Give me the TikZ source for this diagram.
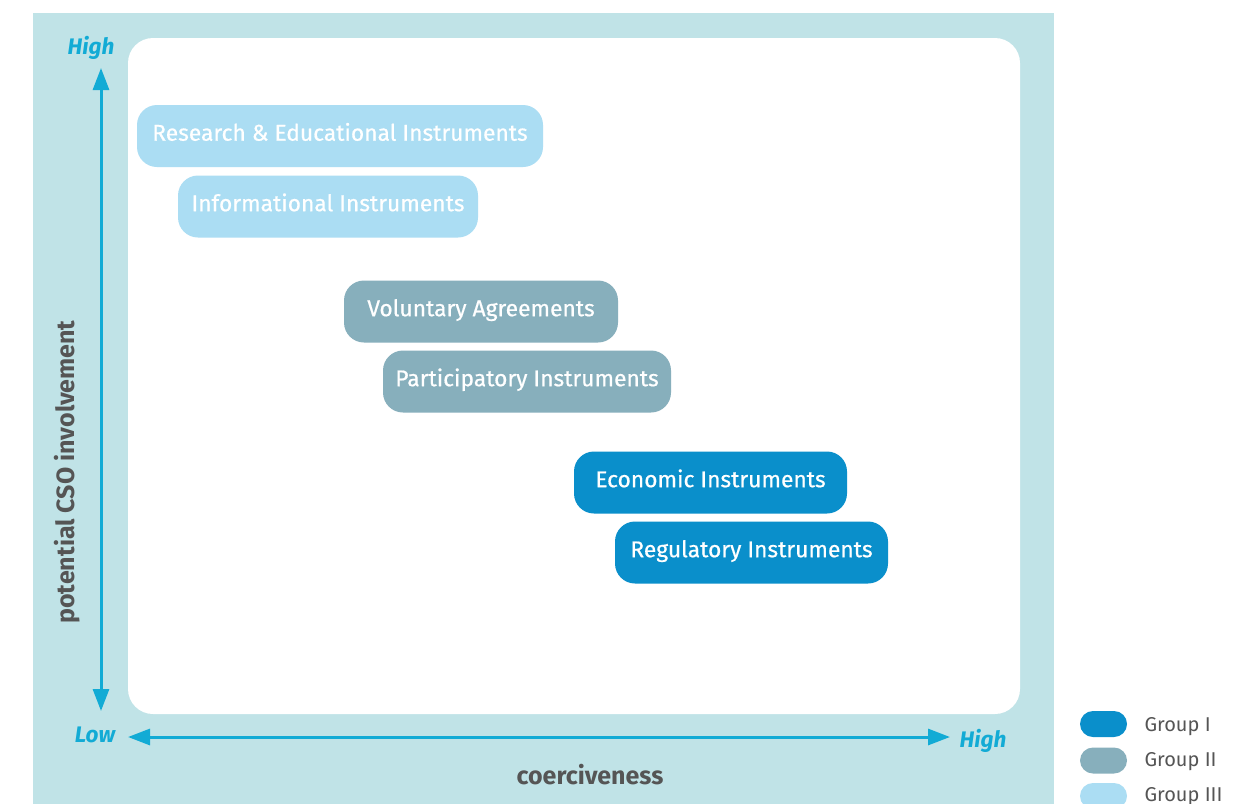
\documentclass[tikz,border=0pt]{standalone}
\usepackage{fontspec}
\setmainfont{Fira Sans}
\newfontfamily\medfont{Fira Sans}[FakeBold=0.6]
\usetikzlibrary{arrows.meta}
\definecolor{panel}{HTML}{C0E3E7}
\definecolor{axis}{HTML}{12ABD5}
\definecolor{gone}{HTML}{0A8FCB}
\definecolor{gtwo}{HTML}{87AFBC}
\definecolor{gthree}{HTML}{ABDDF3}
\definecolor{lbl}{HTML}{555555}
\tikzset{
  box/.style={rounded corners=20pt, minimum height=62pt, inner sep=0pt, text height=17pt, text depth=7.6pt, text=white, font=\fontsize{22.8}{26}\medfont},
  axisarrow/.style={draw=axis, line width=3pt, {Triangle[length=22pt,width=16pt]}-{Triangle[length=22pt,width=16pt]}},
  axislbl/.style={text=axis, font=\fontsize{22.5}{26}\selectfont\itshape\bfseries},
  title/.style={text=lbl, font=\fontsize{25}{29}\selectfont\bfseries},
  pill/.style={rounded corners=13pt, minimum width=47pt, minimum height=26pt, inner sep=0pt},
  legtext/.style={text=lbl, anchor=west, font=\fontsize{20}{24}\selectfont},
}
\begin{document}
\begin{tikzpicture}[x=1pt,y=-1pt]
\useasboundingbox (0,0) rectangle (1249,803);
\clip (0,0) rectangle (1249,803);
\fill[panel] (33,13) rectangle (1054,810);
\fill[white, rounded corners=25pt] (128,38) rectangle (1020,714);

\coordinate (vtop) at (101,68);
\coordinate (vbot) at (101,711);
\coordinate (hleft) at (128,737);
\coordinate (hright) at (950,737);
\draw[axisarrow] (vtop) -- (vbot);
\draw[axisarrow] (hleft) -- (hright);

\node[axislbl] (yhigh) at (91,48) {High};
\node[axislbl] (xlow) at (95,735) {Low};
\node[axislbl] (xhigh) at (983,741) {High};
\node[title, rotate=90] (ytitle) at (67,472) {potential CSO involvement};
\node[title] (xtitle) at (590,775) {coerciveness};

\node[box, fill=gthree, minimum width=406pt] (res) at (340,136) {Research \& Educational Instruments};
\node[box, fill=gthree, minimum width=300pt] (inf) at (328,206.5) {Informational Instruments};
\node[box, fill=gtwo, minimum width=274pt] (vol) at (481,311.5) {Voluntary Agreements};
\node[box, fill=gtwo, minimum width=288pt] (par) at (527,381.5) {Participatory Instruments};
\node[box, fill=gone, minimum width=273pt] (eco) at (710.5,482.5) {Economic Instruments};
\node[box, fill=gone, minimum width=273pt] (reg) at (751.5,552.5) {Regulatory Instruments};

\node[pill, fill=gone] (p1) at (1103.5,724) {};
\node[pill, fill=gtwo] (p2) at (1103.5,760.5) {};
\node[pill, fill=gthree] (p3) at (1103.5,796) {};
\node[legtext] (l1) at (1141,727) {Group I};
\node[legtext] (l2) at (1141,762) {Group II};
\node[legtext] (l3) at (1141,797) {Group III};
\end{tikzpicture}
\end{document}
